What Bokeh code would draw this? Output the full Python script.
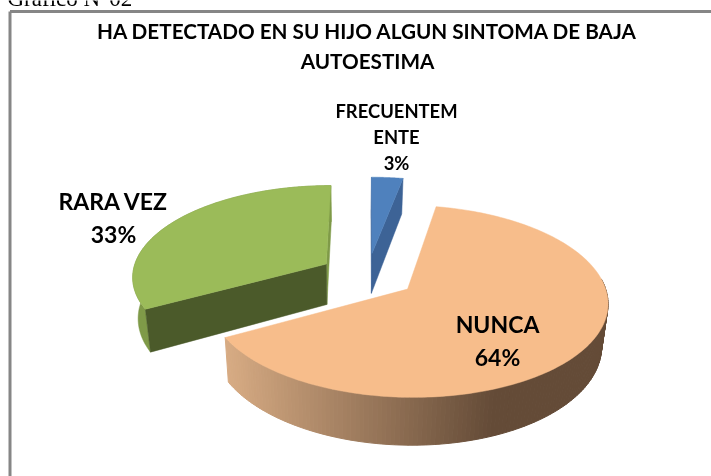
import numpy as np
from bokeh.plotting import figure
from bokeh.embed import file_html
from bokeh.resources import INLINE
from bokeh.core.properties import value

categories = ["FRECUENTEMENTE", "NUNCA", "RARA VEZ"]
percent = [3, 64, 33]
title_lines = ["HA DETECTADO EN SU HIJO ALGUN SINTOMA DE BAJA", "AUTOESTIMA"]
label_lines = [["FRECUENTEM", "ENTE", "3%"], ["NUNCA", "64%"], ["RARA VEZ", "33%"]]

# Layout / style
X0, Y0, A, B, E = 367.0, 275.0, 194.5, 91.0, 0.125
EXPLODE = 0.25
WALL = 41.0
START = 90.0
VANISH_X, VANISH_K = 350.0, 0.025
FACE = ["#4f81bd", "#f7bd8b", "#9bbb59"]
DARK_BLUE, DARK_GREEN, RIM_GREEN = "#3d6396", "#4b5a2a", "#7f9a48"
FONT = value("Lato")

p = figure(width=711, height=476, x_range=(0, 711), y_range=(476, 0),
           output_backend="svg", toolbar_location=None, min_border=0,
           outline_line_color=None, background_fill_color="white",
           styles={"position": "fixed", "left": "0px", "top": "0px"})
p.xaxis.visible = False
p.yaxis.visible = False
p.grid.visible = False


def project(u, v):
    u, v = np.asarray(u, float), np.asarray(v, float)
    w = 1 + E * v
    return X0 + A * u / w, Y0 - B * v / w


def lower(x, y, v):
    """The point below a top-face point, on the bottom face of the pie."""
    h = WALL / (1 + E * np.asarray(v, float))
    return x + (VANISH_X - x) * VANISH_K, y + h


def mix(c1, c2, f):
    a = [int(c1[i:i + 2], 16) for i in (1, 3, 5)]
    b = [int(c2[i:i + 2], 16) for i in (1, 3, 5)]
    return "#%02x%02x%02x" % tuple(int(round(x + (y - x) * f)) for x, y in zip(a, b))


def poly(xs, ys, c):
    p.patch(xs, ys, fill_color=c, line_color=c, line_width=0.5)


# slice angles come from the values, clockwise from the top
edges = START - np.cumsum([0] + [v * 3.6 for v in percent])
mids = (edges[:-1] + edges[1:]) / 2
draw_order = [2, 0, 1]  # back to front: green, blue, orange

for i in draw_order:
    du = EXPLODE * np.cos(np.radians(mids[i]))
    dv = EXPLODE * np.sin(np.radians(mids[i]))
    th = np.radians(np.linspace(edges[i], edges[i + 1], 200))
    au, av = du + np.cos(th), dv + np.sin(th)
    ax, ay = project(du, dv)
    bx, by = lower(ax, ay, dv)
    x, y = project(au, av)
    xb, yb = lower(x, y, av)

    if i == 0:  # blue: the cut walls
        poly([ax, x[-1], xb[-1], bx], [ay, y[-1], yb[-1], by], DARK_BLUE)
        poly([ax, x[0], xb[0], bx], [ay, y[0], yb[0], by], DARK_BLUE)
    if i == 2:  # green: thin wall at the top edge, rim at the left, dark cut wall in front
        poly([ax, x[-1], xb[-1], bx], [ay, y[-1], yb[-1], by], RIM_GREEN)
        poly(np.r_[x, xb[::-1]], np.r_[y, yb[::-1]], RIM_GREEN)
        poly([ax, x[0], xb[0], bx], [ay, y[0], yb[0], by], DARK_GREEN)
    if i == 1:  # orange: gradient rim made of thin strips, front half only
        for j in range(len(x) - 1):
            if np.sin(th[j]) > 0.12:
                continue
            f = min(max((x[j] - 224) / (495 - 224), 0), 1)
            c = mix("#d8ac84", "#644b37", f)
            p.patch([x[j], x[j + 1], xb[j + 1], xb[j]],
                    [y[j], y[j + 1], yb[j + 1], yb[j]],
                    fill_color=c, line_color=c, line_width=1.0)
    poly(np.r_[ax, x], np.r_[ay, y], FACE[i])

# chart frame
p.line([9.5, 9.5], [476, 11], line_color="#868686", line_width=3)
p.line([9.5, 711], [11, 11], line_color="#868686", line_width=3)

# caption above the chart, cut off by the top of the picture as in the original
p.text([7], [-2], text=["Gráfico N°02"], text_font=value("Liberation Serif"),
       text_font_size="23px", text_baseline="alphabetic", text_color="#000000")

# title
p.text([367, 367], [30, 60], text=title_lines, text_font=FONT, text_font_style="bold",
       text_font_size="20.7px", text_align="center", text_baseline="middle", text_color="#000000")

# data labels
p.text([396, 396, 396], [110, 136, 162], text=label_lines[0], text_font=FONT, text_font_style="bold",
       text_font_size="18.4px", text_align="center", text_baseline="middle", text_color="#000000")
p.text([497, 497], [323, 356], text=label_lines[1], text_font=FONT, text_font_style="bold",
       text_font_size="23px", text_align="center", text_baseline="middle", text_color="#000000")
p.text([113, 113], [200, 233], text=label_lines[2], text_font=FONT, text_font_style="bold",
       text_font_size="23px", text_align="center", text_baseline="middle", text_color="#000000")

open("out.html", "w").write(file_html(p, INLINE))
